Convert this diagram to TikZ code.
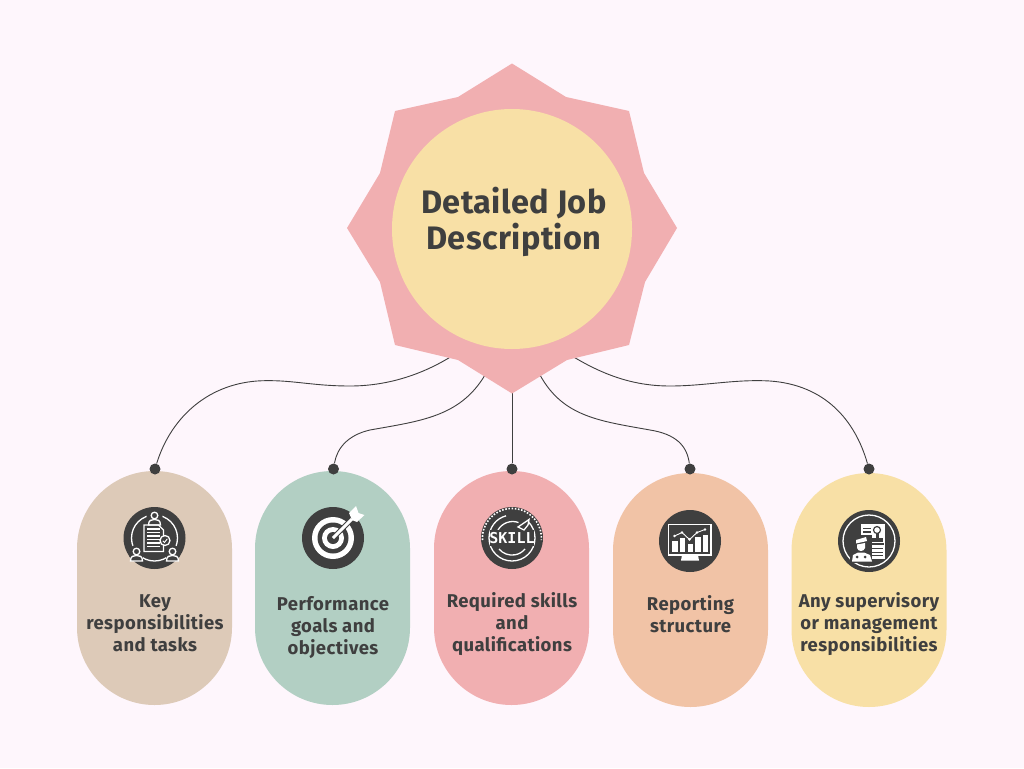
\documentclass[tikz,border=0pt]{standalone}
\usepackage{fontspec}
\setmainfont{Fira Sans}
\newfontfamily\labelfont[LetterSpace=2.2]{Fira Sans}
\newfontfamily\titlefont[LetterSpace=1.2]{Fira Sans}
\newfontfamily\skillfont{DejaVu Sans Mono}
\definecolor{bgc}{HTML}{FEF6FC}
\definecolor{rosec}{HTML}{F1AFB1}
\definecolor{sandc}{HTML}{F8E0A6}
\definecolor{tanc}{HTML}{DDCAB8}
\definecolor{sagec}{HTML}{B2CFC3}
\definecolor{peachc}{HTML}{F1C3A6}
\definecolor{inkc}{HTML}{3F3F3F}
\tikzset{
  pill/.style={rectangle,rounded corners=77.5pt,minimum width=155pt,minimum height=234pt,inner sep=0pt},
  pin/.style={circle,fill=inkc,minimum size=11pt,inner sep=0pt},
  badge/.style={circle,fill=inkc,minimum size=62pt,inner sep=0pt},
  label/.style={text=inkc,align=center,font=\labelfont\fontsize{18.5}{22}\selectfont\bfseries,inner sep=0pt},
  wire/.style={inkc,line width=0.9pt},
  wl/.style={white,line width=1.3pt},
  wt/.style={white,line width=0.9pt},
}
\begin{document}
\begin{tikzpicture}[x=1pt,y=-1pt]
\useasboundingbox (0,0) rectangle (1024,768);
\fill[bgc] (0,0) rectangle (1024,768);
% pills
\node[pill,fill=tanc] (p1) at (154.5,588) {};
\node[pill,fill=sagec] (p2) at (332.5,588) {};
\node[pill,fill=rosec] (p3) at (511.5,588) {};
\node[pill,fill=peachc] (p4) at (690.5,590) {};
\node[pill,fill=sandc] (p5) at (869,590) {};
% pins
\node[pin] (d1) at (155,469) {};
\node[pin] (d2) at (333.5,469) {};
\node[pin] (d3) at (512,469) {};
\node[pin] (d4) at (690,469) {};
\node[pin] (d5) at (869,469) {};
% connector roots, hidden by the star
\coordinate (s1) at (452,356);
\coordinate (s2) at (485,375);
\coordinate (s3) at (512,385);
\coordinate (s4) at (540,375);
\coordinate (s5) at (572,356);
\draw[wire] (d1) .. controls (170,420) and (205,385) .. (257,381) .. controls (290,379) and (310,386) .. (350,386) .. controls (385,386) and (420,376) .. (s1);
\draw[wire] (d2) .. controls (337,448) and (348,435) .. (370,430) .. controls (420,421) and (460,417) .. (s2);
\draw[wire] (d3) -- (s3);
\draw[wire] (d4) .. controls (687,445) and (675,434) .. (650,430) .. controls (600,421) and (563,417) .. (s4);
\draw[wire] (d5) .. controls (855,420) and (825,385) .. (770,381) .. controls (735,379) and (705,386) .. (670,386) .. controls (635,386) and (605,376) .. (s5);
% star
\fill[rosec] (512,63.5) -- (566,97) -- (629,111) -- (644,173) -- (677,228) -- (645,282) -- (629,345) -- (567,360) -- (512,393.5) -- (458,360) -- (395,345) -- (380,282) -- (347,228) -- (380,173) -- (395,111) -- (458,97) -- cycle;
\node[circle,fill=sandc,minimum size=240pt,inner sep=0pt] (hub) at (512,229) {};
\node[text=inkc,align=center,inner sep=0pt,font=\titlefont\fontsize{32.5}{36}\selectfont\bfseries] (title) at (514,222) {Detailed Job\\Description};
% labels
\node[label] (t1) at (155,623) {Key\\responsibilities\\and tasks};
\node[label] (t2) at (333,627.5) {Performance\\goals and\\objectives};
\node[label] (t3) at (512,624) {Required skills\\and\\qualifications};
\node[label] (t4) at (690.5,614) {Reporting\\structure};
\node[label] (t5) at (869,624) {Any supervisory\\or management\\responsibilities};
% icon badges
\node[badge] (i1) at (154.5,538) {};
\node[badge] (i2) at (333,538) {};
\node[badge] (i3) at (512,538) {};
\node[badge] (i4) at (690,541) {};
\node[badge] (i5) at (869,541) {};
% icon 1: document and people
\begin{scope}[shift={(154.5,538)}]
  \draw[wl] (0,0) circle[radius=23];
  \foreach \px/\py in {0/-21,-18/15,18/15}{
    \fill[inkc] (\px,\py) circle[radius=8];
    \draw[wl,fill=inkc] (\px,\py-1.5) circle[radius=3.3];
    \draw[wl,fill=inkc] (\px-6,\py+8) .. controls (\px-6,\py+3) and (\px-3,\py+2.5) .. (\px,\py+2.5) .. controls (\px+3,\py+2.5) and (\px+6,\py+3) .. (\px+6,\py+8) -- cycle;
  }
  \draw[wl] (-10.5,-13) -- (4,-13) -- (9,-8) -- (9,13.5) -- (-10.5,13.5) -- cycle;
  \foreach \ly in {-9,-5.5,-2,1.5,5,8.5}{\draw[wl] (-7.5,\ly) -- (5,\ly);}
  \draw[wl,fill=inkc] (10.5,2.5) circle[radius=5];
  \draw[wt] (8.3,2.7) -- (10,4.4) -- (12.8,0.8);
\end{scope}
% icon 2: target and dart
\begin{scope}[shift={(333,538)}]
  \fill[white] (0,0) circle[radius=21];
  \fill[inkc] (0,0) circle[radius=15.5];
  \fill[white] (0,0) circle[radius=11];
  \fill[inkc] (0,0) circle[radius=6];
  \draw[inkc,line width=5pt] (2,-2) -- (18,-18);
  \draw[white,line width=3pt] (0,0) -- (19,-19);
  \fill[white] (16,-25) -- (23,-32) -- (25.5,-25) -- (31.5,-23) -- (24,-16) -- (19,-18) -- cycle;
\end{scope}
% icon 3: skill gauge
\begin{scope}[shift={(512,538)}]
  \draw[white,line width=1.6pt,dash pattern=on 1.6pt off 1.6pt] (-29.5,2) arc[start angle=176,end angle=364,radius=29.5];
  \draw[wl] (0,23) arc[start angle=90,end angle=-45,radius=23];
  \draw[wl] (0,23) arc[start angle=90,end angle=255,radius=23];
  \draw[wl] (-14,-8) arc[start angle=210,end angle=290,radius=17];
  \draw[wl] (-13,11) arc[start angle=140,end angle=40,radius=17];
  \fill[inkc] (-22,-8) rectangle (22,8);
  \node[text=white,inner sep=0pt,font=\skillfont\bfseries\fontsize{15}{15}\selectfont] (skill) at (0,0.3) {SKILL};
  \draw[wl,fill=inkc] (6,-11) -- (17,-18.5) -- (16,-13) -- (12,-8) -- cycle;
\end{scope}
% icon 4: monitor and chart
\begin{scope}[shift={(690,541)}]
  \draw[white,line width=1.3pt] (-21.5,-16.5) rectangle (21,14);
  \fill[white] (-8,14) -- (8,14) -- (9,19.5) -- (-9,19.5) -- cycle;
  \fill[white] (-18,0) rectangle (-12.5,11);
  \fill[white] (-10.5,-3) rectangle (-5,11);
  \fill[white] (-2.5,3) rectangle (2.5,11);
  \fill[white] (5,-4) rectangle (10.5,11);
  \fill[white] (12.5,-6.5) rectangle (18,11);
  \draw[wt] (-15.5,-5) -- (-8,-8.5) -- (-0.5,-1.5) -- (7,-8.5) -- (15,-11.5);
  \foreach \mx/\my in {-15.5/-5,-8/-8.5,-0.5/-1.5,7/-8.5,15/-11.5}{\fill[white] (\mx,\my) circle[radius=1.4];}
\end{scope}
% icon 5: officer and stamped document
\begin{scope}[shift={(869,541)}]
  \draw[wl] (0,0) circle[radius=26];
  \fill[white] (-8,-17.5) rectangle (16,18);
  \fill[inkc] (-6,-13.5) rectangle (2,-12);
  \fill[inkc] (-6,-10) rectangle (2,-8.5);
  \fill[inkc] (-6,-6.5) rectangle (2,-5);
  \draw[inkc,line width=1.2pt] (8,-11) circle[radius=3.5];
  \fill[inkc] (6.5,-8) rectangle (9.5,-3);
  \fill[inkc] (2.5,-3) rectangle (14,1);
  \fill[inkc] (1,2) rectangle (15,3.5);
  \foreach \ly in {7,10.5,14}{\fill[inkc] (3,\ly) rectangle (14,\ly+1.2);}
  \fill[inkc] (-19,-6) rectangle (3,22);
  \fill[white] (-13,-1) -- (-3,-4) -- (-2,0) -- (-13,2.5) -- cycle;
  \fill[white] (-12,3.5) -- (-4,2) -- (-4,7) .. controls (-5,11) and (-11,11) .. (-12,7) -- cycle;
  \fill[white] (-17,20.5) -- (-16,14) -- (-11,11.5) -- (-5,11.5) -- (1,14) -- (3,20.5) -- cycle;
  \fill[inkc] (-12,16) circle[radius=1.5];
  \fill[inkc] (-4,16) circle[radius=1.5];
\end{scope}
\end{tikzpicture}
\end{document}
